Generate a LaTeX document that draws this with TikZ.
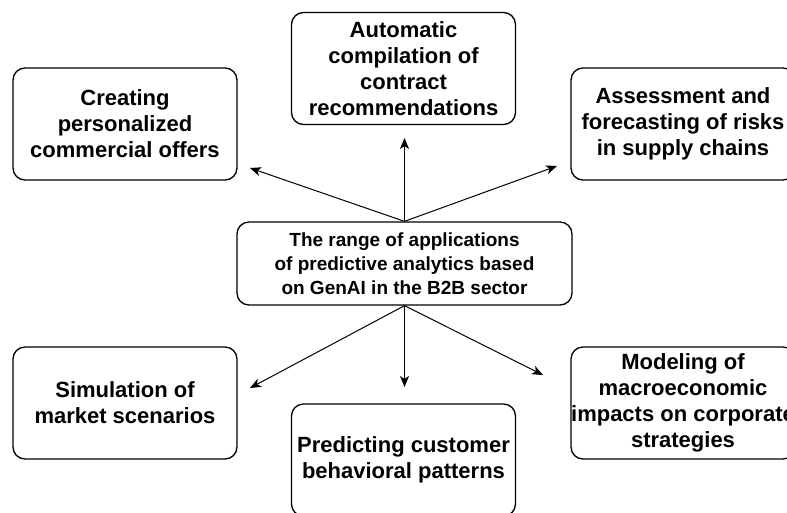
\documentclass[tikz,border=0pt]{standalone}
\usepackage{fontspec}
\setmainfont{Liberation Sans}
\usetikzlibrary{arrows,arrows.meta}
\usetikzlibrary{positioning}

\begin{document}
\begin{tikzpicture}[x=1pt,y=-1pt,
		box/.style={draw, line width=1.3pt, rounded corners=12pt, minimum width=224pt, minimum height=112pt, inner sep=0pt, align=center, font=\fontsize{22}{26}\selectfont\bfseries},
		hub/.style={box, minimum width=335pt, minimum height=83pt, font=\fontsize{19}{24}\selectfont\bfseries},
		link/.style={line width=1pt, -{Stealth[length=11pt,width=9pt,inset=3pt]}}]
		\useasboundingbox (0,0) rectangle (787,512);
		\node[hub] (range) at (404.5,263.5) {The range of applications\\of predictive analytics based\\on GenAI in the B2B sector};
		\node[box] (offers) at (125,124) {Creating\\personalized\\commercial offers};
		\node[box] (contracts) at (403.5,68.5) {Automatic\\compilation of\\contract\\recommendations};
		\node[box] (risks) at (683,124) {Assessment and\\forecasting of risks\\in supply chains};
		\node[box] (market) at (125,403) {Simulation of\\market scenarios};
		\node[box] (customer) at (403.5,460) {Predicting customer\\behavioral patterns};
		\node[box] (macro) at (683,403) {Modeling of\\macroeconomic\\impacts on corporate\\strategies};
		\coordinate (toOffers) at (250,168);
		\coordinate (toContracts) at (404.5,138);
		\coordinate (toRisks) at (557,166);
		\coordinate (toMarket) at (250,388);
		\coordinate (toCustomer) at (404.5,387);
		\coordinate (toMacro) at (543,375);
		\draw[link] (range.north) -- (toOffers);
		\draw[link] (range.north) -- (toContracts);
		\draw[link] (range.north) -- (toRisks);
		\draw[link] (range.south) -- (toMarket);
		\draw[link] (range.south) -- (toCustomer);
		\draw[link] (range.south) -- (toMacro);
	\end{tikzpicture}
\end{document}
